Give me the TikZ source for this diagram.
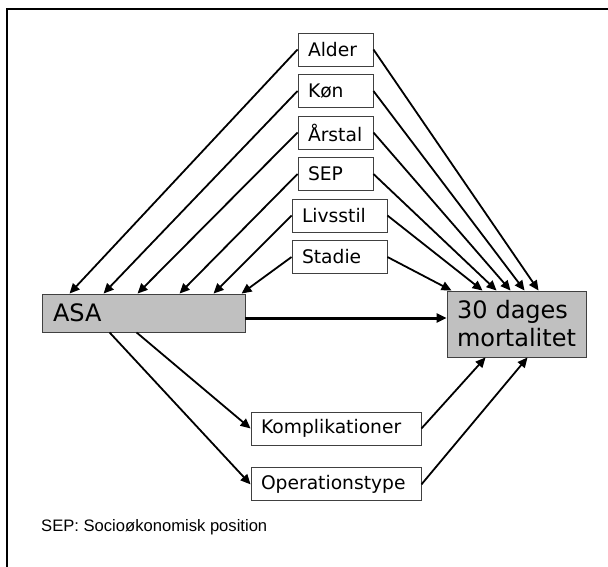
\documentclass[tikz,border=0pt]{standalone}
\usepackage{fontspec}
\setmainfont{DejaVu Sans}
\newfontfamily\notefont{Liberation Sans}
\usetikzlibrary{arrows.meta,positioning}
\definecolor{boxgray}{HTML}{C0C0C0}
\definecolor{boxline}{HTML}{404040}

\begin{document}
\begin{tikzpicture}[x=1pt,y=-1pt,
  font=\fontsize{18.7}{22}\selectfont,
  fac/.style={draw=boxline,line width=0.9pt,fill=white,inner xsep=10pt,inner ysep=0pt,minimum height=33pt,text width=55pt,align=left},
  wide/.style={fac,text width=75pt},
  mid/.style={fac,text width=150pt},
  outc/.style={fac,fill=boxgray,font=\fontsize{24}{28}\selectfont},
  fl/.style={-{Triangle[length=10pt,width=9pt]},line width=1.8pt},
]
\useasboundingbox (0,0) rectangle (608,567);
\draw[line width=2pt] (7,567) -- (7,9) -- (608,9);
% confounders
\node[fac] (alder) at (335.5,49.5) {Alder};
\node[fac,below=7.6pt of alder] (koen) {Køn};
\node[fac,below=7.6pt of koen] (aarstal) {Årstal};
\node[fac,below=7.6pt of aarstal] (sep) {SEP};
\node[wide,below=7.6pt of sep,xshift=4pt] (livsstil) {Livsstil};
\node[wide,below=7.6pt of livsstil] (stadie) {Stadie};
% exposure and outcome
\node[outc,text width=181pt,inner xsep=11pt,minimum height=38pt] (asa) at (143.5,313) {ASA};
\node[outc,text width=119pt,minimum height=66pt] (mort) at (516.5,324) {30 dages\\mortalitet};
% mediators
\node[mid] (kompl) at (336,428.5) {Komplikationer};
\node[mid,below=22pt of kompl] (optype) {Operationstype};
\node[font=\notefont\fontsize{16.6}{20}\selectfont,anchor=west,inner sep=0pt] (note) at (41,527) {SEP: Socioøkonomisk position};
\foreach \f/\dx in {alder/28,koen/62,aarstal/96,sep/138,livsstil/172,stadie/200}
  \draw[fl] (\f.west) -- ([xshift=\dx pt]asa.north west);
\foreach \f/\dx in {alder/92,koen/78,aarstal/64,sep/50,livsstil/36,stadie/5}
  \draw[fl] (\f.east) -- ([xshift=\dx pt]mort.north west);
\draw[fl] ([xshift=95pt]asa.south west) -- (kompl.west);
\draw[fl] ([xshift=68pt]asa.south west) -- (optype.west);
\draw[fl] (kompl.east) -- ([xshift=39pt]mort.south west);
\draw[fl] (optype.east) -- ([xshift=81pt]mort.south west);
\draw[fl,line width=3pt] ([yshift=-5pt]asa.east) -- ([yshift=-5pt]asa.east -| mort.west);
\end{tikzpicture}
\end{document}
